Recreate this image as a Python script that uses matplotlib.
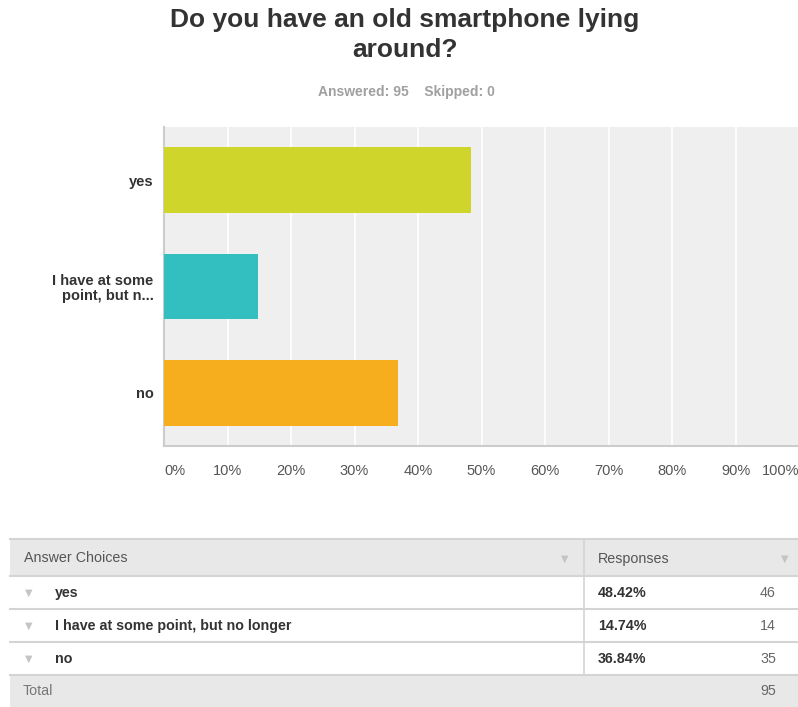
import matplotlib
matplotlib.use("Agg")
import matplotlib.pyplot as plt
from matplotlib.patches import Rectangle

plt.rcParams['font.family'] = ['Liberation Sans', 'DejaVu Sans']

# Survey data
title = "Do you have an old smartphone lying\naround?"
answered = 95
skipped = 0
short_labels = ["yes", "I have at some\npoint, but n...", "no"]
full_labels = ["yes", "I have at some point, but no longer", "no"]
percents = [48.42, 14.74, 36.84]
counts = [46, 14, 35]
total = 95
bar_colors = ["#cfd52a", "#33bfbf", "#f6ae1f"]
tick_values = [0, 10, 20, 30, 40, 50, 60, 70, 80, 90, 100]

W, H = 798, 707
fig = plt.figure(figsize=(W / 100, H / 100), dpi=100)
fig.patch.set_facecolor("white")


def frac_rect(x0, y0, x1, y1):
    """Pixel box (top-left origin) -> figure fraction rect."""
    return [x0 / W, 1 - y1 / H, (x1 - x0) / W, (y1 - y0) / H]


# ---- Title and subtitle
fig.text(405 / W, 1 - 35 / H, title, ha="center", va="center",
         fontsize=19, fontweight="bold", color="#333333", linespacing=1.3)
fig.text(406 / W, 1 - 92 / H, f"Answered: {answered}    Skipped: {skipped}",
         ha="center", va="center", fontsize=10, fontweight="bold", color="#a0a0a0")

# ---- Bar chart
ax = fig.add_axes(frac_rect(164, 127, 799, 446))
ax.set_facecolor("#efefef")
ypos = list(range(len(percents)))
ax.barh(ypos, percents, height=0.62, color=bar_colors, zorder=3)
ax.set_xlim(0, 100)
ax.set_ylim(len(percents) - 0.5, -0.5)
ax.set_xticks(tick_values)
ax.xaxis.grid(True, color="white", linewidth=1.2, zorder=1)
ax.set_axisbelow(True)
ax.tick_params(axis="both", length=0)
ax.set_yticks(ypos)
ax.set_yticklabels(short_labels, fontsize=10.5, fontweight="bold", color="#333333",
                   linespacing=1.05)
ax.tick_params(axis="y", pad=7.5)
ax.set_xticklabels([])
for v in tick_values:
    ha = "left" if v == 0 else ("right" if v == 100 else "center")
    ax.text(v, -25 / 319, f"{v}%", transform=ax.get_xaxis_transform(),
            ha=ha, va="center", fontsize=10.5, color="#555555")
for side in ["top", "right"]:
    ax.spines[side].set_visible(False)
for side in ["left", "bottom"]:
    ax.spines[side].set_color("#cccccc")
    ax.spines[side].set_linewidth(1.5)

# ---- Response table
tb = fig.add_axes([0, 0, 1, 1])
tb.set_xlim(0, W)
tb.set_ylim(H, 0)
tb.axis("off")

left, right, divider = 10, 798, 584
rows_y = [539, 576, 609, 642, 675, 707]
line_c = "#d4d4d4"
head_bg = "#e8e8e8"

tb.add_patch(Rectangle((left, rows_y[0]), right - left, rows_y[1] - rows_y[0],
                       facecolor=head_bg, edgecolor="none"))
tb.add_patch(Rectangle((left, rows_y[4]), right - left, rows_y[5] - rows_y[4],
                       facecolor=head_bg, edgecolor="none"))
for y in rows_y[:-1]:
    tb.plot([left, right], [y, y], color=line_c, lw=1.5)
tb.plot([divider, divider], [rows_y[0], rows_y[4]], color=line_c, lw=1.2)

hy = (rows_y[0] + rows_y[1]) / 2 + 1
tb.text(24, hy, "Answer Choices", ha="left", va="center", fontsize=10.3,
        color="#555555")
tb.text(598, hy, "Responses", ha="left", va="center", fontsize=10.3,
        color="#555555")
for cx in (565, 785):
    tb.text(cx, hy, "▼", ha="center", va="center", fontsize=7,
            color="#c4c4c4", family=["DejaVu Sans"])

for i, (lab, pct, cnt) in enumerate(zip(full_labels, percents, counts)):
    cy = (rows_y[i + 1] + rows_y[i + 2]) / 2 + 0.5
    tb.text(29, cy, "▼", ha="center", va="center", fontsize=7,
            color="#c4c4c4", family=["DejaVu Sans"])
    tb.text(55, cy, lab, ha="left", va="center", fontsize=10.3,
            fontweight="bold", color="#333333")
    tb.text(598, cy, f"{pct:.2f}%", ha="left", va="center", fontsize=10.3,
            fontweight="bold", color="#333333")
    tb.text(776, cy, f"{cnt}", ha="right", va="center", fontsize=10.3,
            color="#666666")

ty = (rows_y[4] + rows_y[5]) / 2
tb.text(23, ty, "Total", ha="left", va="center", fontsize=10.3,
        color="#777777")
tb.text(776, ty, f"{total}", ha="right", va="center", fontsize=10.3,
        color="#666666")

fig.savefig("out.png", dpi=100)
